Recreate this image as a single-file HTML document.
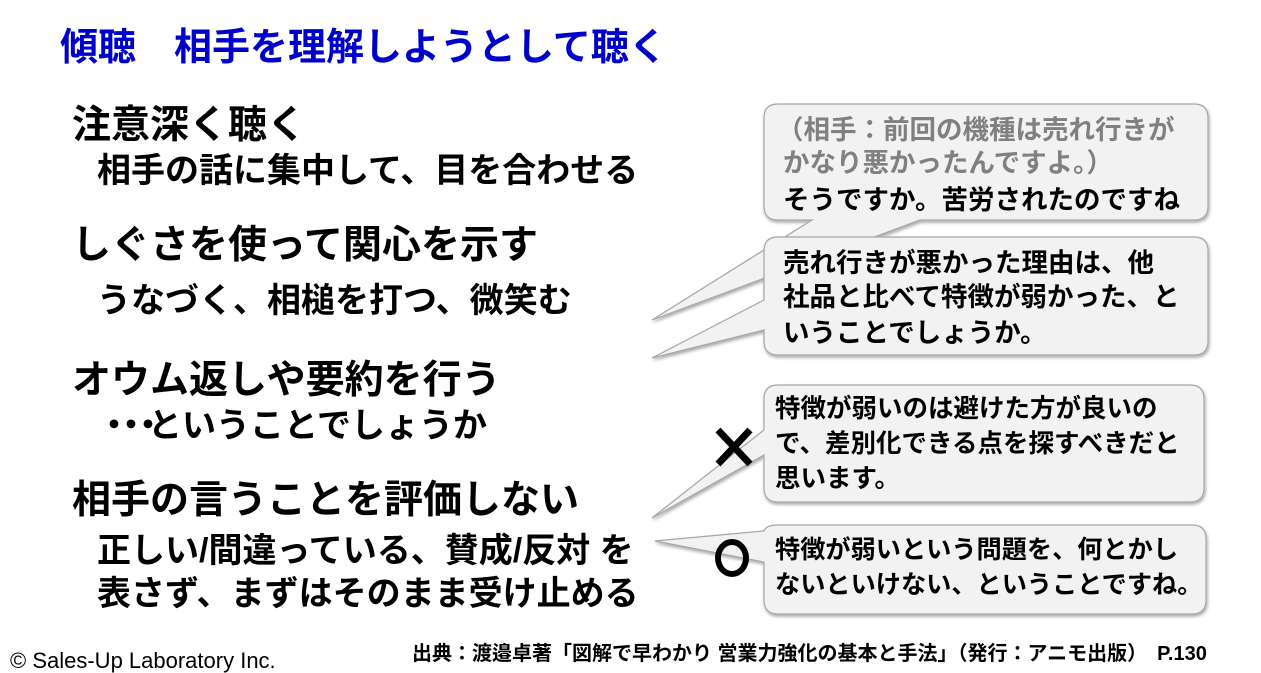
<!DOCTYPE html>
<html><head><meta charset="utf-8"><style>
body{margin:0;width:1261px;height:673px;background:#fff;position:relative;overflow:hidden;font-family:"Liberation Sans","Noto Sans CJK JP",sans-serif;}
.t{position:absolute;white-space:nowrap;font-weight:bold;line-height:1;}
.h{font-size:39px;color:#000;left:72px;}
.s{font-size:34px;color:#000;left:97px;}
.b{font-size:26.5px;color:#000;}
</style></head><body>
<svg width="1261" height="673" style="position:absolute;left:0;top:0">
<defs><filter id="sh" x="-5%" y="-5%" width="115%" height="120%"><feDropShadow dx="1" dy="2" stdDeviation="1.5" flood-color="#000" flood-opacity="0.35"/></filter></defs>
<g fill="#f2f2f2" stroke="#a6a6a6" stroke-width="1.2" filter="url(#sh)">
<path d="M778,104 H1194 Q1208,104 1208,118 V206 Q1208,220 1194,220 H920 L652,320 L812,220 H778 Q764,220 764,206 V118 Q764,104 778,104 Z"/>
<path d="M778,237 H1194 Q1208,237 1208,251 V341 Q1208,355 1194,355 H778 Q764,355 764,341 V330 L652,358 L764,300 V251 Q764,237 778,237 Z"/>
<path d="M778,385 H1190 Q1204,385 1204,399 V488 Q1204,502 1190,502 H778 Q764,502 764,488 V455 L652,518 L764,430 V399 Q764,385 778,385 Z"/>
<path d="M778,525 H1192 Q1206,525 1206,539 V600 Q1206,614 1192,614 H778 Q764,614 764,600 V562 L655,541 L764,531 Q766,525 778,525 Z"/>
</g>
<g stroke="#000" stroke-width="7" fill="none">
<line x1="718" y1="430" x2="750" y2="464"/><line x1="750" y1="430" x2="718" y2="464"/>
<ellipse cx="732" cy="558" rx="14" ry="16" stroke-width="6"/>
</g>
</svg>
<div class="t" style="left:60px;top:29px;font-size:38px;color:#0000cc;">傾聴　相手を理解しようとして聴く</div>
<div class="t h" style="top:106px">注意深く聴く</div>
<div class="t s" style="top:154px">相手の話に集中して、目を合わせる</div>
<div class="t h" style="top:226px">しぐさを使って関心を示す</div>
<div class="t s" style="top:284px">うなづく、相槌を打つ、微笑む</div>
<div class="t h" style="top:361px">オウム返しや要約を行う</div>
<div class="t s" style="top:409px"><span style="letter-spacing:-17px">・・・</span><span style="margin-left:0px">ということでしょうか</span></div>
<div class="t h" style="top:481px">相手の言うことを評価しない</div>
<div class="t s" style="top:534px">正しい/間違っている、賛成/反対 を</div>
<div class="t s" style="top:577px">表さず、まずはそのまま受け止める</div>
<div class="t b" style="left:777px;top:117px;color:#808080">（相手：前回の機種は売れ行きが</div>
<div class="t b" style="left:783px;top:150px;color:#808080">かなり悪かったんですよ。）</div>
<div class="t b" style="left:783px;top:187px">そうですか。苦労されたのですね</div>
<div class="t b" style="left:783px;top:250px">売れ行きが悪かった理由は、他</div>
<div class="t b" style="left:783px;top:284px">社品と比べて特徴が弱かった、と</div>
<div class="t b" style="left:783px;top:320px">いうことでしょうか。</div>
<div class="t b" style="left:775px;top:397px;font-size:25.5px">特徴が弱いのは避けた方が良いの</div>
<div class="t b" style="left:775px;top:432px;font-size:25.5px">で、差別化できる点を探すべきだと</div>
<div class="t b" style="left:775px;top:467px;font-size:25.5px">思います。</div>
<div class="t b" style="left:775px;top:538px;font-size:25.2px">特徴が弱いという問題を、何とかし</div>
<div class="t b" style="left:775px;top:573px;font-size:25.2px">ないといけない、ということですね。</div>
<div class="t" style="left:10px;top:650px;font-size:22px;font-weight:normal;">© Sales-Up Laboratory Inc.</div>
<div class="t" style="left:412px;top:644px;font-size:20px;">出典：渡邉卓著「図解で早わかり 営業力強化の基本と手法」（発行：アニモ出版）　P.130</div>
</body></html>
